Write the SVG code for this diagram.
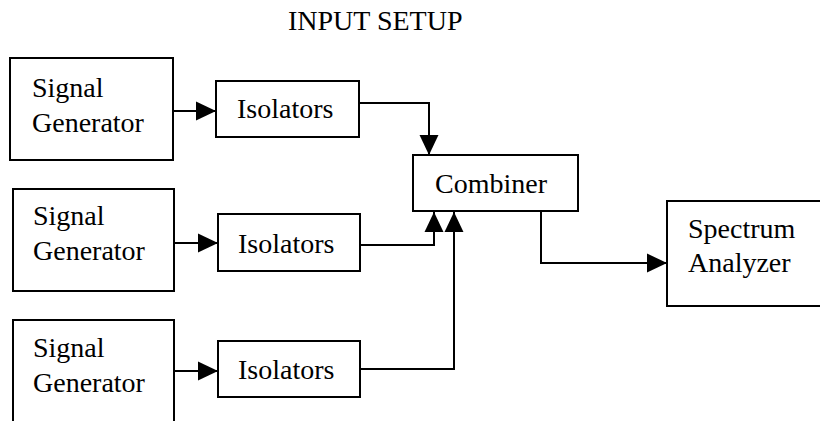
<svg xmlns="http://www.w3.org/2000/svg" width="820" height="421" viewBox="0 0 820 421">
  <defs>
    <style>
      .box { fill: #ffffff; stroke: #000000; stroke-width: 2; }
      .lbl { font-family: "Liberation Serif", "Times New Roman", serif; font-size: 28px; fill: #000000; }
      .wire { fill: none; stroke: #000000; stroke-width: 2; }
    </style>
    <marker id="head" markerUnits="userSpaceOnUse" markerWidth="20" markerHeight="20" viewBox="0 0 19 18" refX="19" refY="9" orient="auto">
      <path d="M0,0 L19,9 L0,18 Z" fill="#000000"/>
    </marker>
  </defs>
  <rect width="820" height="421" fill="#ffffff"/>

  <text class="lbl" x="288" y="30">INPUT SETUP</text>

  <g id="sig-gen-1">
    <rect class="box" x="10" y="58" width="163" height="102"/>
    <text class="lbl" x="32" y="97">Signal</text>
    <text class="lbl" x="32" y="132">Generator</text>
  </g>
  <g id="isolators-1">
    <rect class="box" x="216" y="81" width="143" height="56"/>
    <text class="lbl" x="237" y="118">Isolators</text>
  </g>

  <g id="sig-gen-2">
    <rect class="box" x="13" y="189" width="161" height="102"/>
    <text class="lbl" x="33" y="225">Signal</text>
    <text class="lbl" x="33" y="260">Generator</text>
  </g>
  <g id="isolators-2">
    <rect class="box" x="218" y="214" width="142" height="57"/>
    <text class="lbl" x="238" y="253">Isolators</text>
  </g>

  <g id="sig-gen-3">
    <rect class="box" x="13" y="320" width="161" height="115"/>
    <text class="lbl" x="33" y="357">Signal</text>
    <text class="lbl" x="33" y="392">Generator</text>
  </g>
  <g id="isolators-3">
    <rect class="box" x="218" y="341" width="142" height="56"/>
    <text class="lbl" x="238" y="379">Isolators</text>
  </g>

  <g id="combiner">
    <rect class="box" x="413" y="155" width="165" height="56"/>
    <text class="lbl" x="435" y="193">Combiner</text>
  </g>

  <g id="spectrum-analyzer">
    <rect class="box" x="667" y="201" width="160" height="105"/>
    <text class="lbl" x="688" y="238">Spectrum</text>
    <text class="lbl" x="688" y="272">Analyzer</text>
  </g>

  <g id="connectors">
    <path class="wire" d="M173,111 H216" marker-end="url(#head)"/>
    <path class="wire" d="M174,243 H218" marker-end="url(#head)"/>
    <path class="wire" d="M174,371 H218" marker-end="url(#head)"/>
    <path class="wire" d="M359,103 H429 V155" marker-end="url(#head)"/>
    <path class="wire" d="M360,245 H434 V212" marker-end="url(#head)"/>
    <path class="wire" d="M360,369 H454 V212" marker-end="url(#head)"/>
    <path class="wire" d="M541,211 V263 H667" marker-end="url(#head)"/>
  </g>
</svg>
